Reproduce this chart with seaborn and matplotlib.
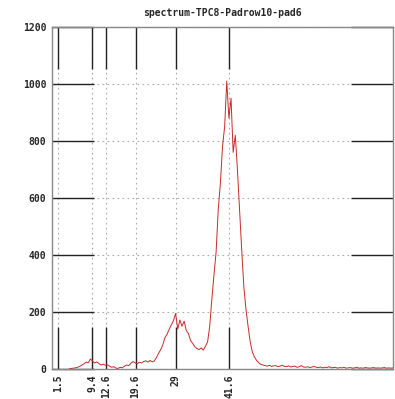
import numpy as np
import pandas as pd
import matplotlib
matplotlib.use('Agg')
import matplotlib.pyplot as plt
import seaborn as sns

# spectrum data, one value every 0.5 from x=4 to x=80
x_start = 4.0
x_step = 0.5
counts = [
    0, 2, 3, 4, 6, 9, 14, 18, 24, 22,          # 4.0 - 8.5
    35, 28, 21, 25, 19, 14, 17, 13, 15, 10,     # 9.0 - 13.5
    6, 8, 3, 2, 6, 4, 10, 14, 12, 20,           # 14.0 - 18.5
    26, 22, 18, 24, 21, 26, 29, 24, 30, 25,     # 19.0 - 23.5
    28, 40, 55, 68, 85, 110, 122, 140, 155, 170,  # 24.0 - 28.5
    195, 140, 172, 150, 168, 135, 125, 100, 90, 78,  # 29.0 - 33.5
    72, 68, 74, 66, 80, 95, 150, 245, 330, 410,  # 34.0 - 38.5
    560, 650, 780, 850, 1010, 880, 950, 760, 820, 700,  # 39.0 - 43.5
    560, 420, 290, 210, 150, 95, 60, 42, 30, 22,  # 44.0 - 48.5
    16, 14, 12, 10, 13, 9, 11, 12, 8, 10,       # 49.0 - 53.5
    13, 9, 8, 11, 7, 9, 10, 6, 8, 12,           # 54.0 - 58.5
    7, 6, 8, 5, 7, 9, 6, 5, 7, 4,               # 59.0 - 63.5
    6, 5, 8, 4, 5, 6, 3, 5, 4, 6,               # 64.0 - 68.5
    3, 4, 5, 3, 4, 6, 3, 4, 3, 5,               # 69.0 - 73.5
    4, 3, 4, 5, 3, 4, 3, 4, 5, 3,               # 74.0 - 78.5
    4, 3, 4,                                    # 79.0 - 80.0
]
xs = x_start + x_step * np.arange(len(counts))
df = pd.DataFrame({'x': xs, 'counts': counts})

tick_pos = [1.5, 9.4, 12.6, 19.6, 29, 41.6]
tick_labels = ['1.5', '9.4', '12.6', '19.6', '29', '41.6']
y_ticks = [0, 200, 400, 600, 800, 1000, 1200]

sns.set_style('white')
plt.rcParams['font.family'] = ['DejaVu Sans Mono']

fig = plt.figure(figsize=(3.95, 3.99), dpi=100)
ax = fig.add_axes([52/395, 30/399, 341/395, 342/399])

sns.lineplot(data=df, x='x', y='counts', ax=ax, color='#c62a2a', linewidth=0.7)

ax.set_xlim(0, 80)
ax.set_ylim(0, 1200)
ax.set_xticks(tick_pos)
ax.set_xticklabels(tick_labels, rotation=90, fontsize=7, fontweight='bold')
ax.set_yticks(y_ticks)
ax.set_yticklabels([str(v) for v in y_ticks], fontsize=7, fontweight='bold')
ax.grid(True, linestyle=(0, (1.5, 3)), color='#aaaaaa', linewidth=0.8)
ax.tick_params(axis='both', direction='in', length=30, width=1, color='#222222',
               top=True, right=True, bottom=True, left=True, pad=4)
ax.set_xlabel('')
ax.set_ylabel('')
for s in ax.spines.values():
    s.set_color('#888888')
    s.set_linewidth(1)
ax.set_title('spectrum-TPC8-Padrow10-pad6', fontsize=7, fontweight='bold', pad=8)

fig.savefig('out.png', dpi=100)
